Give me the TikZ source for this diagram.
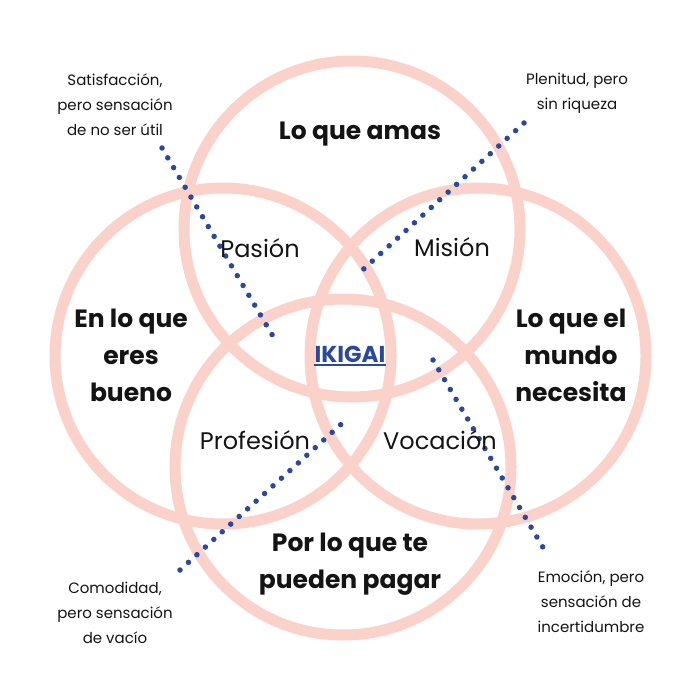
\documentclass[tikz,border=0pt]{standalone}
\usepackage{fontspec}
\setmainfont{Poppins}
\definecolor{ringpink}{RGB}{250,210,202}
\definecolor{dotblue}{RGB}{42,72,158}
\definecolor{ink}{RGB}{20,20,20}
\begin{document}
\begin{tikzpicture}[x=1pt,y=-1pt,
 ring/.style={circle, draw=ringpink, line width=11pt, minimum size=336pt, inner sep=0pt},
 dotline/.style={draw=dotblue, line width=5.5pt, line cap=round, dash pattern=on 0pt off 11.4pt},
 big/.style={font=\fontsize{25}{37}\selectfont\bfseries, text=ink, align=center, inner sep=0pt},
 mid/.style={font=\fontsize{24}{30}\selectfont, text=ink, inner sep=0pt},
 note/.style={font=\fontsize{15}{25}\selectfont, text=ink, align=center, inner sep=0pt},
 core/.style={font=\fontsize{23}{28}\selectfont\bfseries, text=dotblue, inner sep=0pt}]
\useasboundingbox[fill=white] (0,0) rectangle (700,700);
\node[ring] (ctop) at (352,229) {};
\node[ring] (cleft) at (223,356) {};
\node[ring] (cright) at (478,356) {};
\node[ring] (cbottom) at (343,467) {};

\coordinate (a1) at (162,148); \coordinate (a2) at (277,343);
\coordinate (b1) at (524,123); \coordinate (b2) at (356,276);
\coordinate (c1) at (180,570); \coordinate (c2) at (348,418);
\coordinate (d1) at (433,360); \coordinate (d2) at (548,556);
\draw[dotline] (a1) -- (a2);
\draw[dotline] (b1) -- (b2);
\draw[dotline] (c1) -- (c2);
\draw[dotline] (d1) -- (d2);

\node[big] (amas) at (360,134) {Lo que amas};
\node[big] (bueno) at (131,355) {En lo que\\eres\\bueno};
\node[big] (mundo) at (571,355) {Lo que el\\mundo\\necesita};
\node[big] (pagar) at (350,564) {Por lo que te\\pueden pagar};

\node[mid] (pasion) at (260,248) {Pasión};
\node[mid] (mision) at (452,247) {Misión};
\node[mid] (profesion) at (255,440) {Profesión};
\node[mid] (vocacion) at (440,440) {Vocación};

\node[core] (ikigai) at (350,354) {IKIGAI};
\draw[dotblue, line width=1.2pt] ([yshift=-2.5pt]ikigai.south west) -- ([yshift=-2.5pt]ikigai.south east);

\node[note] (n1) at (115,105) {Satisfacción,\\pero sensación\\de no ser útil};
\node[note] (n2) at (577,93) {Plenitud, pero\\sin riqueza};
\node[note] (n3) at (115,613) {Comodidad,\\pero sensación\\de vacío};
\node[note] (n4) at (591,602) {Emoción, pero\\sensación de\\incertidumbre};
\end{tikzpicture}
\end{document}
